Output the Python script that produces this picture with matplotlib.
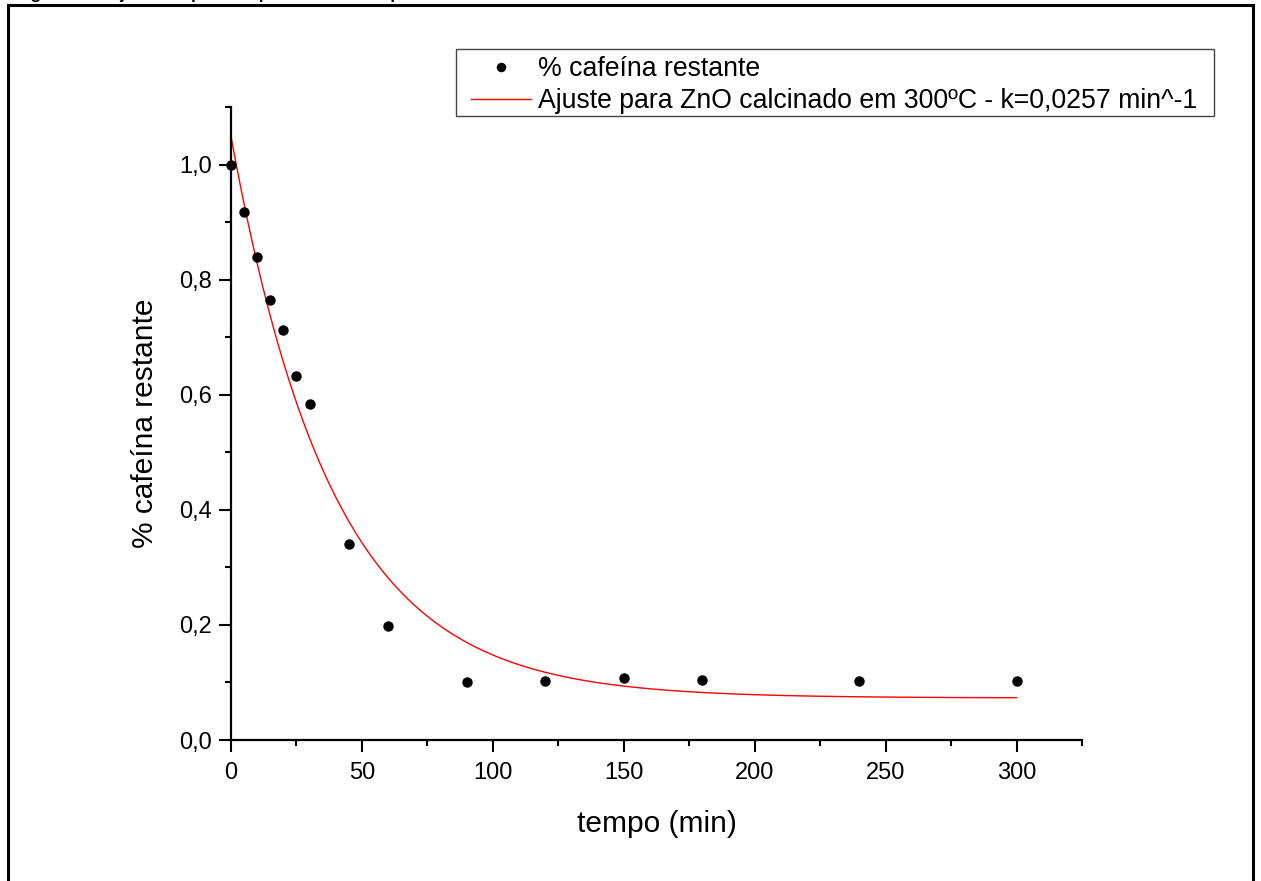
import numpy as np
import matplotlib.pyplot as plt
from matplotlib.lines import Line2D
from matplotlib.patches import Rectangle
from matplotlib.ticker import MultipleLocator

plt.rcParams['font.family'] = ['Liberation Sans', 'DejaVu Sans']

# data
tempo = [0, 5, 10, 15, 20, 25, 30, 45, 60, 90, 120, 150, 180, 240, 300]
cafeina = [1.0, 0.918, 0.840, 0.765, 0.713, 0.633, 0.584, 0.341, 0.198,
           0.101, 0.103, 0.108, 0.104, 0.103, 0.103]

# exponential fit parameters (y = y0 + A*exp(-k*t))
k_fit = 0.0257
y0_fit = 0.073
A_fit = 0.976
t_fit = np.linspace(0, 300, 301)
y_fit = y0_fit + A_fit * np.exp(-k_fit * t_fit)

W, H = 1261, 881
fig = plt.figure(figsize=(W / 100, H / 100), dpi=100)

# outer frame (bottom edge is outside the crop)
for xs, ys in [([8, 8], [H + 5, 5]), ([8, 1253], [5, 5]), ([1253, 1253], [5, H + 5])]:
    fig.add_artist(Line2D([x / W for x in xs], [1 - y / H for y in ys],
                          color='black', lw=2.2, transform=fig.transFigure))

# caption cut off at the top of the crop
fig.text(15 / W, 1 + 0.5 / H, 'Figura 21 - Ajuste de pseudo-primeira ordem para ZnO',
         fontsize=12.5, fontweight='bold', va='baseline', ha='left')

ax = fig.add_axes([231 / W, 1 - 740 / H, (1082 - 231) / W, (740 - 107) / H])
ax.plot(tempo, cafeina, 'o', color='black', markersize=6.5, label='% cafeína restante',
        clip_on=False, zorder=3)
ax.plot(t_fit, y_fit, color='red', lw=1.0,
        label='Ajuste para ZnO calcinado em 300ºC - k=0,0257 min^-1')

ax.set_xlim(0, 325)
ax.set_ylim(0, 1.1)
ax.xaxis.set_major_locator(MultipleLocator(50))
ax.xaxis.set_minor_locator(MultipleLocator(25))
ax.yaxis.set_major_locator(MultipleLocator(0.2))
ax.yaxis.set_minor_locator(MultipleLocator(0.1))
yt = [0.0, 0.2, 0.4, 0.6, 0.8, 1.0]
ax.set_yticks(yt)
ax.set_yticklabels([f'{v:.1f}'.replace('.', ',') for v in yt])
ax.set_ylim(0, 1.1)

for s in ['top', 'right']:
    ax.spines[s].set_visible(False)
for s in ['left', 'bottom']:
    ax.spines[s].set_linewidth(1.6)
ax.tick_params(which='major', direction='out', length=8.5, width=1.5, labelsize=17)
ax.tick_params(axis='x', which='major', pad=7)
ax.tick_params(axis='y', which='major', pad=5)
ax.tick_params(which='minor', direction='out', length=4.5, width=1.5)

ax.set_xlabel('tempo (min)', fontsize=21.5, labelpad=19)
ax.set_ylabel('% cafeína restante', fontsize=21.5, labelpad=15)

# legend frame drawn separately (Origin-style padding)
fig.add_artist(Rectangle((456 / W, 1 - 116 / H), (1214 - 456) / W, (116 - 49) / H,
                         transform=fig.transFigure, fill=False, edgecolor='#444444',
                         lw=1.0, zorder=4))
leg = ax.legend(loc='upper left', bbox_to_anchor=(471 / W, 1 - 56 / H),
                bbox_transform=fig.transFigure, fontsize=19.2, frameon=False,
                borderpad=0, handlelength=2.25, handletextpad=0.26,
                labelspacing=0.22, borderaxespad=0, markerscale=0.9)

fig.savefig('out.png', dpi=100)
